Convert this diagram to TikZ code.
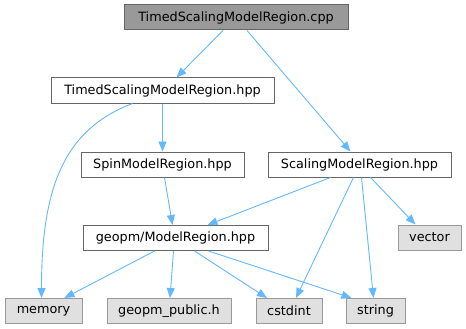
\documentclass[tikz,border=0pt]{standalone}
\usepackage{fontspec}
\setmainfont{DejaVu Sans}
\usetikzlibrary{arrows.meta,calc}
\definecolor{edgeblue}{HTML}{63B8FF}
\definecolor{boxline}{HTML}{666666}
\definecolor{sysline}{HTML}{999999}
\definecolor{sysfill}{HTML}{E0E0E0}
\definecolor{rootfill}{HTML}{999999}
\begin{document}
\begin{tikzpicture}[x=1pt,y=-1pt,
  file/.style={draw=boxline,fill=white,line width=1pt,inner sep=0pt,
    font=\fontsize{12.8}{15}\selectfont,minimum height=25pt},
  rootfile/.style={file,fill=rootfill},
  sysfile/.style={file,draw=sysline,fill=sysfill},
  dep/.style={draw=edgeblue,line width=0.9pt,-{Triangle[length=10pt,width=8pt]}}]
\useasboundingbox (0,0) rectangle (466,329);

% file nodes
\node[rootfile,minimum width=224pt] (cpp)    at (236,17.5)  {TimedScalingModelRegion.cpp};
\node[file,minimum width=223pt]     (tsmr)   at (162.5,90.5) {TimedScalingModelRegion.hpp};
\node[file,minimum width=163pt]     (spin)   at (162.5,164.5) {SpinModelRegion.hpp};
\node[file,minimum width=183pt]     (scal)   at (359.5,164.5) {ScalingModelRegion.hpp};
\node[file,minimum width=185pt]     (model)  at (175.5,238)  {geopm/ModelRegion.hpp};
\node[sysfile,minimum width=63pt]   (vector) at (429.5,237.5) {vector};
\node[sysfile,minimum width=77pt]   (memory) at (43.5,311)   {memory};
\node[sysfile,minimum width=124pt]  (public) at (169,311)    {geopm\_public.h};
\node[sysfile,minimum width=66pt]   (cstd)   at (289,311)    {cstdint};
\node[sysfile,minimum width=59pt]   (string) at (375.5,311)  {string};

% include dependencies
\draw[dep] ([xshift=-13pt]cpp.south) -- ([xshift=14pt]tsmr.north);
\draw[dep] ([xshift=11pt]cpp.south) -- ([xshift=-9pt]scal.north);
\draw[dep] (tsmr.south) -- (spin.north);
\draw[dep] ([xshift=-30pt]tsmr.south) .. controls ($(memory.north)+(19,-168)$) and ($(memory.north)+(-2,-108)$) .. ([xshift=-2pt]memory.north);
\draw[dep] ([xshift=2pt]spin.south) -- ([xshift=-3pt]model.north);
\draw[dep] ([xshift=-29pt]scal.south) -- ([xshift=32pt]model.north);
\draw[dep] ([xshift=-6pt]scal.south) -- ([xshift=7pt]cstd.north);
\draw[dep] ([xshift=2pt]scal.south) -- ([xshift=-2pt]string.north);
\draw[dep] ([xshift=11pt]scal.south) -- ([xshift=-14pt]vector.north);
\draw[dep] ([xshift=-21pt]model.south) -- ([xshift=21pt]memory.north);
\draw[dep] ([xshift=-2pt]model.south) -- ([xshift=1pt]public.north);
\draw[dep] ([xshift=19pt]model.south) -- ([xshift=-22pt]cstd.north);
\draw[dep] ([xshift=33pt]model.south) -- ([xshift=-24pt]string.north);
\end{tikzpicture}
\end{document}
